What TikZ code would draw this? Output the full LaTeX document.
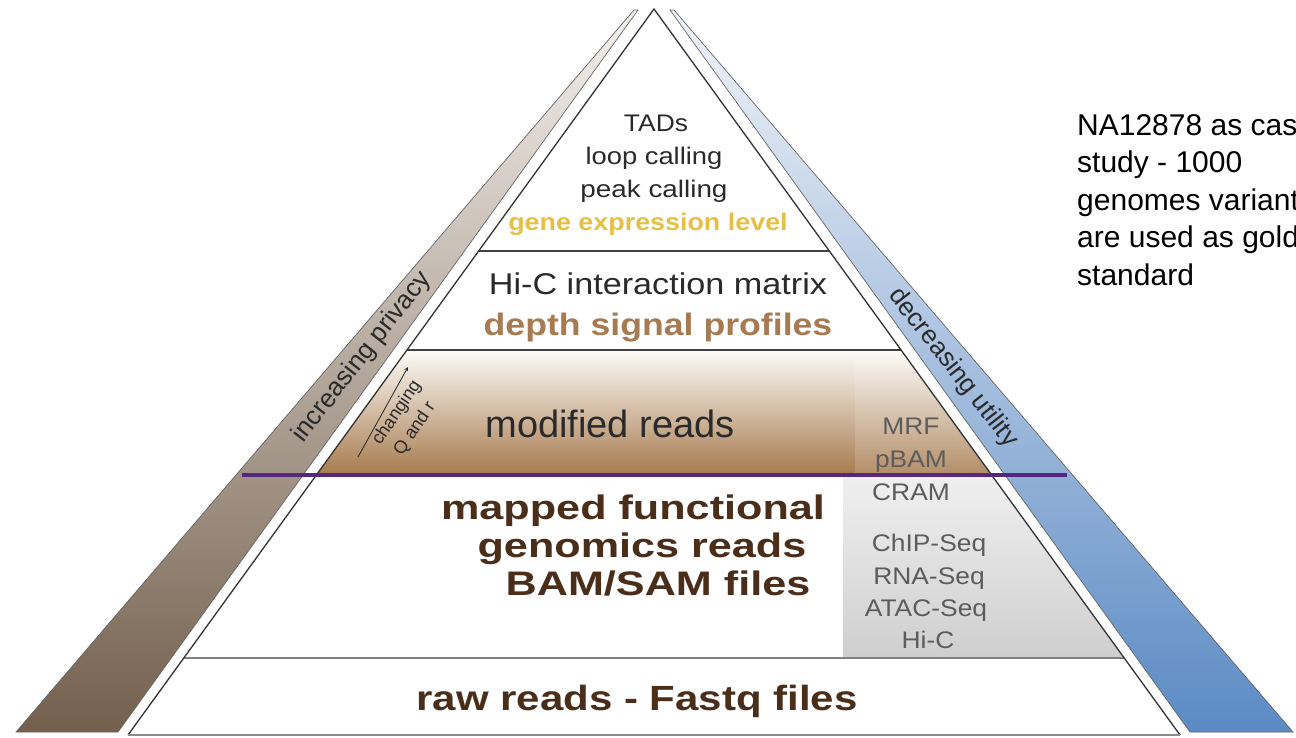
\documentclass[tikz,border=0pt]{standalone}
\usepackage{fontspec}
\setmainfont{Liberation Sans}
\definecolor{txt}{HTML}{2A2A2A}
\definecolor{gold}{HTML}{E6BF45}
\definecolor{tan}{HTML}{A77A52}
\definecolor{dbrown}{HTML}{4A2E1A}
\definecolor{colgray}{HTML}{5C5C5C}
\definecolor{purp}{HTML}{54287F}
\definecolor{lbTop}{HTML}{F4F0EC}
\definecolor{lbMid}{HTML}{BFAE9B}
\definecolor{lbBot}{HTML}{735F4C}
\definecolor{rbTop}{HTML}{F0F3F8}
\definecolor{rbMid}{HTML}{AFC5E2}
\definecolor{rbBot}{HTML}{5B8AC4}
\definecolor{mrTop}{HTML}{FDFBF8}
\definecolor{mrMid}{HTML}{E2CDB5}
\definecolor{mrBot}{HTML}{A67A4D}
\begin{document}
\begin{tikzpicture}[x=1pt,y=-1pt,
  lbl/.style={inner sep=0pt, anchor=base},
  rlbl/.style={inner sep=0pt, anchor=center},
  sidebar/.style={draw=black!60, line width=0.7pt},
  edgeline/.style={draw=black!80, line width=1.3pt},
  layerline/.style={draw=black!75, line width=1.6pt},
  purpline/.style={draw=purp, line width=3.8pt},
  fA/.style={font=\fontsize{24}{28}\selectfont},
  fB/.style={font=\fontsize{24}{28}\selectfont\bfseries},
  fC/.style={font=\fontsize{30}{34}\selectfont},
  fD/.style={font=\fontsize{31}{35}\selectfont\bfseries},
  fE/.style={font=\fontsize{38}{42}\selectfont},
  fF/.style={font=\fontsize{34}{38}\selectfont\bfseries},
  fG/.style={font=\fontsize{35}{39}\selectfont\bfseries},
  fH/.style={font=\fontsize{24}{28}\selectfont},
  fI/.style={font=\fontsize{18}{20}\selectfont},
  fK/.style={font=\fontsize{26}{30}\selectfont},
  fJ/.style={font=\fontsize{30}{34}\selectfont},
]
\useasboundingbox (0,0) rectangle (1296,737);
\fill[white] (0,0) rectangle (1296,737);
\begin{scope}
\clip (0,0) rectangle (1296,737);
% coordinates
\coordinate (apex) at (654,9);
\coordinate (bl) at (128,735);
\coordinate (br) at (1180,735);
\coordinate (lb1) at (16,732);
\coordinate (lb2) at (118,732);
\coordinate (lb3) at (638,10);
\coordinate (lb4) at (634,10);
\coordinate (rb1) at (1293,732);
\coordinate (rb2) at (1190,732);
\coordinate (rb3) at (670,10);
\coordinate (rb4) at (674,10);
% side bands
\shadedraw[sidebar, top color=lbTop, middle color=lbMid, bottom color=lbBot] (lb1) -- (lb4) -- (lb3) -- (lb2) -- cycle;
\shadedraw[sidebar, top color=rbTop, middle color=rbMid, bottom color=rbBot] (rb3) -- (rb4) -- (rb1) -- (rb2) -- cycle;
% pyramid body
\fill[white] (apex) -- (bl) -- (br) -- cycle;
\begin{scope}
\clip (apex) -- (bl) -- (br) -- cycle;
\shade[top color=mrTop, middle color=mrMid, bottom color=mrBot] (0,350) rectangle (1296,475);
\fill[white, opacity=0.15] (855,350) rectangle (1296,475);
\shade[top color=black!6, bottom color=black!19] (843,475) rectangle (1296,658);
\draw[layerline] (0,251) -- (1296,251);
\draw[layerline] (0,350) -- (1296,350);
\draw[draw=black!50, line width=2pt] (0,658) -- (1296,658);
\end{scope}
\draw[edgeline] (bl) -- (apex) -- (br);
\draw[draw=black!45, line width=2pt] (bl) -- (br);
% top layer texts
\node[lbl, fA, text=txt] (tads) at (656,131) {\scalebox{1.1}[1]{TADs}};
\node[lbl, fA, text=txt] (loop) at (654,164) {\scalebox{1.14}[1]{loop calling}};
\node[lbl, fA, text=txt] (peak) at (654,197) {\scalebox{1.16}[1]{peak calling}};
\node[lbl, fB, text=gold] (gene) at (648,230) {\scalebox{1.12}[1]{gene expression level}};
\node[lbl, fC, text=txt] (hic) at (658,294) {\scalebox{1.14}[1]{Hi-C interaction matrix}};
\node[lbl, fD, text=tan] (depth) at (658,335) {\scalebox{1.15}[1]{depth signal profiles}};
\node[lbl, fE, text=txt] (mod) at (610,437) {modified reads};
\node[lbl, fF, text=dbrown] (map1) at (633,519) {\scalebox{1.27}[1]{mapped functional}};
\node[lbl, fF, text=dbrown] (map2) at (642,557) {\scalebox{1.27}[1]{genomics reads}};
\node[lbl, fF, text=dbrown] (map3) at (658,595) {\scalebox{1.27}[1]{BAM/SAM files}};
\node[lbl, fG, text=dbrown] (raw) at (637,710) {\scalebox{1.2}[1]{raw reads - Fastq files}};
% right column
\node[lbl, fH, text=colgray] (mrf) at (911,434) {\scalebox{1.1}[1]{MRF}};
\node[lbl, fH, text=colgray] (pbam) at (911,467) {\scalebox{1.1}[1]{pBAM}};
\node[lbl, fH, text=colgray] (cram) at (911,500) {\scalebox{1.1}[1]{CRAM}};
\node[lbl, fH, text=colgray] (chip) at (929,551) {\scalebox{1.1}[1]{ChIP-Seq}};
\node[lbl, fH, text=colgray] (rna) at (929,584) {\scalebox{1.1}[1]{RNA-Seq}};
\node[lbl, fH, text=colgray] (atac) at (926,616) {\scalebox{1.1}[1]{ATAC-Seq}};
\node[lbl, fH, text=colgray] (hic2) at (928,648) {\scalebox{1.1}[1]{Hi-C}};
% changing Q and r
\coordinate (qa) at (358,457);
\coordinate (qb) at (408,367);
\draw[-stealth, line width=0.8pt, black!85] (qa) -- (qb);
\node[rlbl, fI, text=txt, rotate=56] (chg) at (397,413) {changing};
\node[rlbl, fI, text=txt, rotate=56] (qr) at (415,429) {Q and r};
% band labels
\node[rlbl, fK, text=txt, rotate=52] (priv) at (362,357) {increasing privacy};
\node[rlbl, fK, text=txt, rotate=-52] (util) at (953,368) {decreasing utility};
% purple threshold line
\coordinate (pl) at (242,475);
\coordinate (pr) at (1067,475);
\draw[purpline] (pl) -- (pr);
% side note
\node[inner sep=0pt, anchor=base west, fJ, text=black] (n1) at (1077,135) {NA12878 as case};
\node[inner sep=0pt, anchor=base west, fJ, text=black] (n2) at (1077,172.5) {study - 1000};
\node[inner sep=0pt, anchor=base west, fJ, text=black] (n3) at (1077,210) {genomes variants};
\node[inner sep=0pt, anchor=base west, fJ, text=black] (n4) at (1077,247.5) {are used as gold};
\node[inner sep=0pt, anchor=base west, fJ, text=black] (n5) at (1077,285) {standard};
\end{scope}
\end{tikzpicture}
\end{document}
